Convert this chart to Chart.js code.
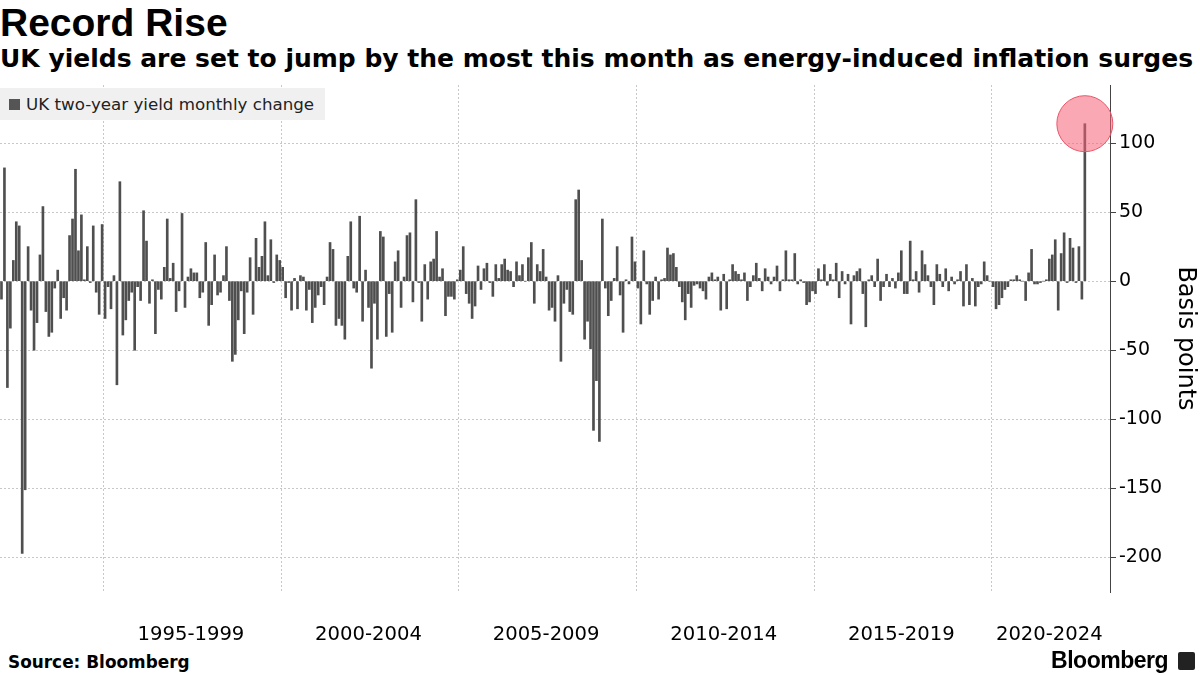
<!DOCTYPE html>
<html>
<head>
<meta charset="utf-8">
<script src="https://cdn.jsdelivr.net/npm/chart.js@4.4.0/dist/chart.umd.min.js"></script>
<style>
  html, body { margin: 0; padding: 0; background: #fff; }
  body { width: 1200px; height: 675px; position: relative; overflow: hidden; font-family: 'DejaVu Sans', sans-serif; color: #000; }
  #title { position: absolute; left: 0; top: 3px; font-family: 'Liberation Sans', Arial, sans-serif; font-size: 39px; font-weight: bold; line-height: 39px; }
  #subtitle { position: absolute; left: 0; top: 46px; font-size: 25px; font-weight: bold; line-height: 25px; white-space: nowrap; }
  #wrap { position: absolute; left: 0; top: 80px; width: 1200px; height: 570px; }
  #legend { position: absolute; left: 0; top: 88px; width: 325px; height: 32px; background: #f0f0f0; font-size: 16.7px; line-height: 32px; color: #222; }
  #legend .sw { position: absolute; left: 9px; top: 11px; width: 11px; height: 11px; background: #555; }
  #legend .tx { position: absolute; left: 26px; top: 0; white-space: nowrap; }
  #source { position: absolute; left: 8px; top: 652px; font-size: 16.9px; font-weight: bold; }
  #logo { position: absolute; right: 32px; top: 647px; font-family: 'Liberation Sans', Arial, sans-serif; font-size: 23px; font-weight: bold; letter-spacing: -0.5px; }
  #icon { position: absolute; left: 1178px; top: 652px; width: 17px; height: 18px; background: #222; border-radius: 2px; }
</style>
</head>
<body>
<div id="title">Record Rise</div>
<div id="subtitle">UK yields are set to jump by the most this month as energy-induced inflation surges</div>
<div id="wrap"><canvas id="myChart" width="1200" height="570"></canvas></div>
<div id="legend"><div class="sw"></div><div class="tx">UK two-year yield monthly change</div></div>
<div id="source">Source: Bloomberg</div>
<div id="logo">Bloomberg</div>
<div id="icon"></div>
<script>
// --------------- data -----------------------
// monthly change in basis points, Feb 1992 .. Aug 2022
const changes = [
  -13, 82, -77, -34, 15, 43, 40, -197, -151, 25, -21, -50, -30, 19, 54, -22, -40, -37, -5, 8, -27, -12, -21, 33, 45, 81, 22, 48, 1, 25, -1, 40, -8, -24,
  41, -27, -4, -20, 4, -75, 72, -39, -28, -14, -8, -50, -4, -14, 51, 29, -16, 1, -38, -6, -13, 10, 45, 2, 13, -22, -7, 49, -19, 3, 9, 6, 6, -12,
  -8, 28, -32, -17, 19, -10, -8, 4, 25, -14, -58, -53, -28, -7, -38, -8, 17, -24, 31, 10, 18, 43, 4, 30, -1, 19, 15, 10, -12, -1, -21, 2, -20,
  4, 3, -21, -6, -30, -19, -10, -4, -17, 3, 28, 23, -32, -27, -32, -42, 18, 43, -5, -8, 47, -29, 8, -19, -63, -16, -42, 36, 32, -40, -9, -37, 14, 22,
  -19, 3, 33, 35, -15, 59, -1, -29, 12, -13, 14, 16, 36, 3, 9, -25, -11, -11, -13, 1, 8, 25, -9, -16, -27, -18, 11, -6, 9, 13, -1, -11, 12, 2,
  12, 16, 8, 7, -4, 14, 4, 12, 0, 17, 28, -16, 12, 7, 23, 3, -21, -19, -29, 4, -58, -16, -6, -22, -24, 59, 66, 15, -42, -29, -49, -108, -72, -116,
  45, -5, -25, -14, 2, 25, -10, -37, 1, -2, 32, 14, -5, -31, 22, -2, -24, -14, 3, -13, 1, 2, 24, 19, 20, 10, -4, -15, -28, -9, -19, -3, -2, -5,
  -7, -13, 3, 6, 1, 3, -21, 5, -20, 1, 12, 7, 5, 1, 6, -14, -4, 4, 13, 2, -7, 9, 3, -2, 3, 11, -7, 1, 22, 1, 1, 20, -2, 1,
  -1, -17, -15, -7, -9, 9, 1, 12, -3, 5, 1, 13, -12, 7, -2, 5, -31, 4, 7, 9, -9, -33, 1, 4, -4, 16, -14, -4, 5, -4, 2, -5, 6,
  22, -9, -9, 29, 1, 7, -8, 22, 12, 4, -4, -17, 12, 5, -4, 9, -7, 3, -2, 1, 7, -18, 12, -17, 2, -18, -4, -2, 14, 4, 0, -4, -20, -17,
  -12, -6, -4, 1, 1, 4, 1, 0, -14, 6, 23, -2, -2, -1, 0, 1, 16, 19, 30, -21, 20, 35, -1, 31, 24, -1, 25, -13, 114
];
const firstYear = 1992;
const firstMonth = 2;       // February
const axisMonths = 375;     // axis runs a few months past the last bar
const bandLabels = ['1995-1999', '2000-2004', '2005-2009', '2010-2014', '2015-2019', '2020-2024'];
const bandLabelAt = ['1997-06', '2002-06', '2007-06', '2012-06', '2017-06', '2021-08'];
const yTicks = [100, 50, 0, -50, -100, -150, -200];

// --------------- month categories -----------------------
let months = [];
for (let i = 0; i < axisMonths; i++) {
    let m = firstMonth - 1 + i;
    let y = firstYear + Math.floor(m / 12);
    let mm = (m % 12) + 1;
    months.push(y + '-' + (mm < 10 ? '0' + mm : mm));
}

// highlight circle on the latest month
let highlight = changes.map((v, i) => i === changes.length - 1 ? v : null);

// --------------- chart -----------------------
const ctx = document.getElementById('myChart').getContext('2d');
const myChart = new Chart(ctx, {
    type: 'bar',
    data: {
        labels: months,
        datasets: [{
            type: 'line',
            label: 'latest',
            data: highlight,
            showLine: false,
            pointRadius: 28,
            pointHoverRadius: 28,
            pointBackgroundColor: 'rgba(246, 96, 116, 0.55)',
            pointBorderColor: '#e8566a',
            pointBorderWidth: 1,
            clip: false,
            order: 0
        }, {
            label: 'UK two-year yield monthly change',
            data: changes,
            backgroundColor: '#4f4f4f',
            barThickness: 2,
            order: 1
        }]
    },
    options: {
        responsive: false,
        animation: false,
        devicePixelRatio: 1,
        layout: { autoPadding: false, padding: { top: 5, left: 0, right: 0, bottom: 0 } },
        plugins: {
            legend: { display: false },
            tooltip: { enabled: false }
        },
        scales: {
            x: {
                afterFit: function(scale) {
                    scale.height = 58;
                    scale.paddingLeft = 0;
                    scale.paddingRight = 0;
                },
                border: { display: false, dash: [2, 2] },
                grid: {
                    offset: true,
                    drawTicks: false,
                    lineWidth: 1,
                    color: function(c) {
                        let lbl = months[c.index];
                        if (!lbl) return 'rgba(0,0,0,0)';
                        let y = parseInt(lbl.slice(0, 4));
                        return (lbl.slice(5) === '01' && y % 5 === 0) ? '#c8c8c8' : 'rgba(0,0,0,0)';
                    }
                },
                ticks: {
                    autoSkip: false,
                    maxRotation: 0,
                    minRotation: 0,
                    padding: 31,
                    color: '#000',
                    font: { family: 'DejaVu Sans', size: 19.6 },
                    callback: function(value, index) {
                        let k = bandLabelAt.indexOf(months[index]);
                        return k >= 0 ? bandLabels[k] : '';
                    }
                }
            },
            y: {
                position: 'right',
                min: -225,
                max: 142,
                afterFit: function(scale) {
                    scale.width = 90;
                    scale.paddingTop = 0;
                    scale.paddingBottom = 0;
                },
                afterBuildTicks: function(scale) {
                    scale.ticks = yTicks.map(v => ({ value: v }));
                },
                border: { display: true, color: '#444', width: 1, dash: [2, 2] },
                grid: {
                    color: '#c8c8c8',
                    lineWidth: 1,
                    drawTicks: true,
                    tickLength: 6,
                    tickColor: '#444',
                    tickBorderDash: []
                },
                ticks: {
                    padding: 3,
                    color: '#000',
                    font: { family: 'DejaVu Sans', size: 19 },
                    callback: function(v) { return '' + v; }
                },
                title: {
                    display: true,
                    text: 'Basis points',
                    color: '#000',
                    font: { family: 'DejaVu Sans', size: 24 },
                    padding: 0
                }
            }
        }
    }
});
</script>
</body>
</html>
